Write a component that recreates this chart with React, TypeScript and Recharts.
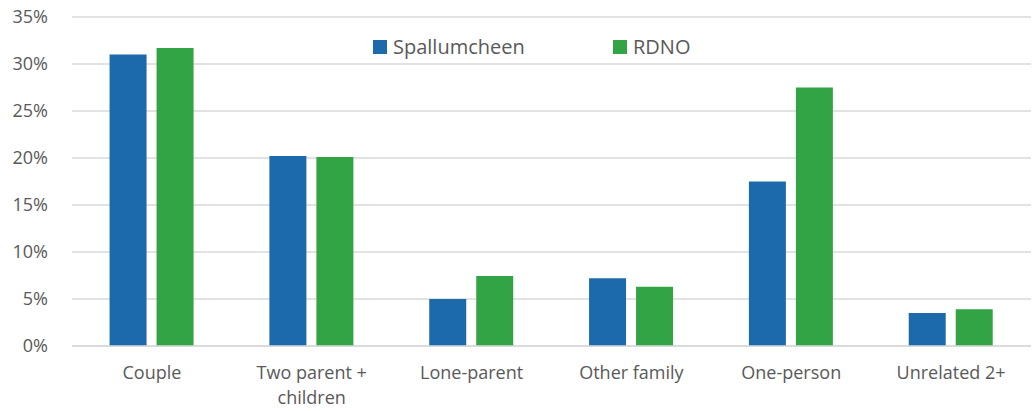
import { BarChart, Bar, XAxis, YAxis, CartesianGrid, Legend, Text } from "recharts"

const categories = ["Couple", "Two parent + children", "Lone-parent", "Other family", "One-person", "Unrelated 2+"]
const spallumcheen = [31.0, 20.2, 5.0, 7.2, 17.5, 3.5]
const rdno = [31.7, 20.1, 7.45, 6.3, 27.5, 3.9]
const yTicks = [0, 5, 10, 15, 20, 25, 30, 35]

const BLUE = "#1c6aab"
const GREEN = "#33a445"
const FONT = "'Open Sans', 'Noto Sans', sans-serif"

const data = categories.map((name, i) => ({
  name,
  Spallumcheen: spallumcheen[i],
  RDNO: rdno[i],
}))

function CategoryTick(props: any) {
  const { x, y, payload } = props
  return (
    <Text
      x={x}
      y={y}
      width={130}
      textAnchor="middle"
      verticalAnchor="start"
      lineHeight={25}
      fontSize={18}
      fontFamily={FONT}
      fill="#595959"
    >
      {payload.value}
    </Text>
  )
}

function renderLegend() {
  const items = [
    { label: "Spallumcheen", color: BLUE },
    { label: "RDNO", color: GREEN },
  ]
  return (
    <div style={{ display: "flex", fontFamily: FONT, fontSize: 20, color: "#595959" }}>
      {items.map((it) => (
        <div key={it.label} style={{ display: "flex", alignItems: "center", width: 240, flexShrink: 0 }}>
          <span style={{ width: 14, height: 14, background: it.color, marginRight: 6, display: "inline-block" }} />
          <span>{it.label}</span>
        </div>
      ))}
    </div>
  )
}

export default function App() {
  return (
    <div style={{ position: "absolute", left: 0, top: 0, width: 1035, height: 411, background: "#fff" }}>
      <BarChart
        width={1035}
        height={411}
        data={data}
        margin={{ top: 17, right: 4, bottom: 0, left: 0 }}
        barCategoryGap="23.5%"
        barGap={10}
      >
        <CartesianGrid vertical={false} stroke="#d9d9d9" strokeWidth={1.5} />
        <XAxis
          dataKey="name"
          height={65}
          axisLine={{ stroke: "#d9d9d9", strokeWidth: 1.5 }}
          tickLine={false}
          tickSize={0}
          tickMargin={20}
          interval={0}
          tick={<CategoryTick />}
        />
        <YAxis
          width={72}
          domain={[0, 35]}
          ticks={yTicks}
          tickFormatter={(v: number) => `${v}%`}
          axisLine={false}
          tickLine={false}
          tickSize={0}
          tickMargin={24}
          tick={{ fontSize: 18, fontFamily: FONT, fill: "#595959" }}
        />
        <Legend
          content={renderLegend}
          verticalAlign="middle"
          wrapperStyle={{ position: "absolute", top: 33, left: 373, width: 520 }}
        />
        <Bar dataKey="Spallumcheen" fill={BLUE} isAnimationActive={false} />
        <Bar dataKey="RDNO" fill={GREEN} isAnimationActive={false} />
      </BarChart>
    </div>
  )
}
